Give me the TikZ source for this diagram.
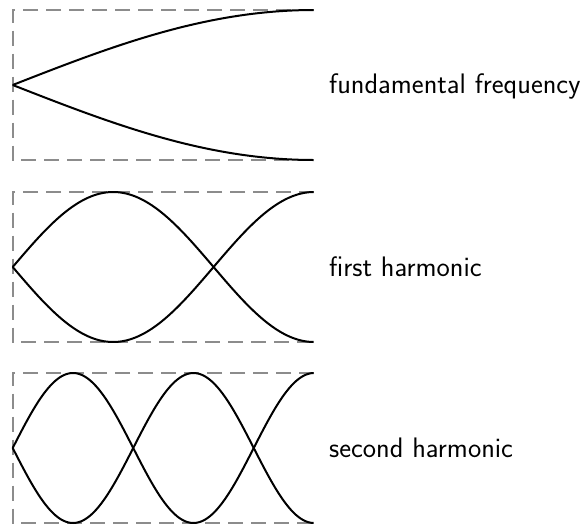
\documentclass[tikz,border=0pt]{standalone}
\begin{document}
\begin{tikzpicture}[x=1pt,y=-1pt,
  pipe/.style={draw=gray!90!white,line width=1.8pt,dash pattern=on 15pt off 8pt},
  wave/.style={draw=black,line width=2pt,smooth,samples=120},
  label/.style={anchor=west,inner sep=0pt,font=\sffamily\fontsize{28.2}{33}\selectfont}]
\useasboundingbox (0,0) rectangle (584,528);
\def\xa{12.7}
\def\xb{314}
% pipe 1
\draw[pipe] (\xb,10) -- (\xa,10) -- (\xa,160) -- (\xb,160);
\draw[wave,domain=0:1] plot ({\xa+301.3*\x},{85-75*sin(90*\x)});
\draw[wave,domain=0:1] plot ({\xa+301.3*\x},{85+75*sin(90*\x)});
\node[label] (f0) at (329,86) {fundamental frequency};
% pipe 2
\draw[pipe] (\xb,192) -- (\xa,192) -- (\xa,342) -- (\xb,342);
\draw[wave,domain=0:1] plot ({\xa+301.3*\x},{267-75*sin(270*\x)});
\draw[wave,domain=0:1] plot ({\xa+301.3*\x},{267+75*sin(270*\x)});
\node[label] (f1) at (329,267) {first harmonic};
% pipe 3
\draw[pipe] (\xb,373) -- (\xa,373) -- (\xa,523) -- (\xb,523);
\draw[wave,domain=0:1] plot ({\xa+301.3*\x},{448-75*sin(450*\x)});
\draw[wave,domain=0:1] plot ({\xa+301.3*\x},{448+75*sin(450*\x)});
\node[label] (f2) at (329,448) {second harmonic};
\end{tikzpicture}
\end{document}
